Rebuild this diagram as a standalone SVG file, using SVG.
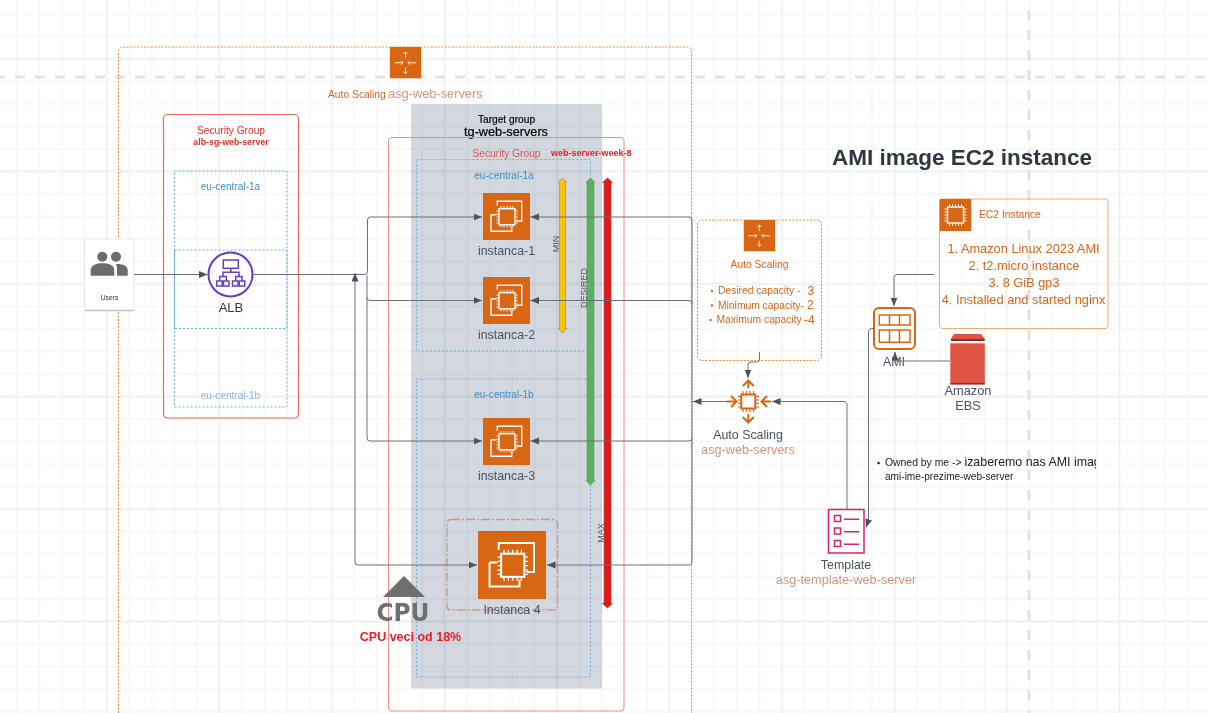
<svg xmlns="http://www.w3.org/2000/svg" xmlns:xlink="http://www.w3.org/1999/xlink" width="1208" height="713" viewBox="0 0 1208 713">
<style>
text{font-family:"Liberation Sans",Arial,sans-serif}
.lbl{font-size:12.400px;fill:#4b5260;text-anchor:middle}
.sal{font-size:12.700px;fill:#d2957c;text-anchor:middle}
.az{font-size:10.100px;text-anchor:middle;fill:#3d8ec4}
.org{fill:#d9661a}
.con{fill:none;stroke:#6a7079;stroke-width:1}
.bz{fill:none;stroke:#6fb2dc;stroke-width:1;stroke-dasharray:2 2}
.sg{fill:none;stroke:#e9695f;stroke-width:1.2}
.sm{font-size:9px;fill:#555;text-anchor:middle}
.cap{font-size:10.300px;fill:#d9661a}
.w{fill:none;stroke:#fff;stroke-width:1.400}
.p{fill:none;stroke:#fff;stroke-width:.9}
</style>
<defs>
<pattern id="grid" patternUnits="userSpaceOnUse" x="50.750" y="2.750" width="112.500" height="112.500">
<path d="M11.250 0V112.500M33.750 0V112.500M78.750 0V112.500M101.250 0V112.500M0 11.250H112.500M0 33.750H112.500M0 78.750H112.500M0 101.250H112.500" fill="none" stroke="#f7f7f7" stroke-width="1.600"/>
<path d="M56.250 0V112.500M0 56.250H112.500" fill="none" stroke="#f0f0f0" stroke-width="1.800"/>
</pattern>
<marker id="arr" markerUnits="userSpaceOnUse" markerWidth="10" markerHeight="8" refX="8.500" refY="3.500" orient="auto-start-reverse">
<path d="M0 0L8.500 3.500L0 7Z" fill="#4a5260"/>
</marker>
<symbol id="ec2" viewBox="0 0 47 47">
<rect width="47" height="47" fill="#d86613"/>
<path class="w" d="M14.300 13V8.300H38.700V28.300H33.500M8 21.700H13.500M8 21.700V38.300H28.700V33.500"/>
<rect class="w" x="16" y="15.700" width="16" height="16"/>
<path class="p" d="M18 13v2.700M21 13v2.700M24 13v2.700M27 13v2.700M30 13v2.700M18 31.700v2.700M21 31.700v2.700M24 31.700v2.700M27 31.700v2.700M30 31.700v2.700M13.400 18h2.600M13.400 21h2.600M13.400 24h2.600M13.400 27h2.600M13.400 30h2.600M32 18h2.600M32 21h2.600M32 24h2.600M32 27h2.600M32 30h2.600"/>
</symbol>
<symbol id="chip" viewBox="0 0 32 32">
<rect width="32" height="32" fill="#d86613"/>
<rect class="w" x="8" y="8" width="16" height="16"/>
<path class="p" d="M10 5v3M13 5v3M16 5v3M19 5v3M22 5v3M10 24v3M13 24v3M16 24v3M19 24v3M22 24v3M5 10h3M5 13h3M5 16h3M5 19h3M5 22h3M24 10h3M24 13h3M24 16h3M24 19h3M24 22h3"/>
</symbol>
<symbol id="asg" viewBox="0 0 32 32">
<rect width="32" height="32" fill="#d86613"/>
<path d="M16 5V11M14 7L16 5L18 7M16 27V21M14 25L16 27L18 25M5 16H13.500M11.500 14L13.500 16L11.500 18M27 16H18.500M20.500 14L18.500 16L20.500 18" fill="none" stroke="#fff" stroke-width=".9"/>
</symbol>
</defs>

<rect width="1208" height="713" fill="#fff"/>
<rect width="1208" height="713" fill="url(#grid)"/>
<path d="M-5 77H1208" fill="none" stroke="#e2e2e2" stroke-width="3" stroke-dasharray="10 10"/>
<path d="M1029 10V713" fill="none" stroke="#e2e2e2" stroke-width="3" stroke-dasharray="10 10"/>

<g id="asg-frame">
<path d="M118.500 720V51a4 4 0 0 1 4-4H687.500a4 4 0 0 1 4 4V720" fill="none" stroke="#ec8a3c" stroke-width="1" stroke-dasharray="2 1.500"/>
<use xlink:href="#asg" href="#asg" x="389.500" y="47" width="32" height="31.500"/>
<text x="328" y="98" class="cap" style="font-size:10.300px">Auto Scaling</text>
<text x="388" y="97.500" style="font-size:12.800px;fill:#d2957c">asg-web-servers</text>
</g>

<g id="target-group">
<rect x="411" y="104" width="191" height="584.500" rx="2" fill="#d3d8e0" style="mix-blend-mode:multiply"/>
<text x="506.500" y="123" style="font-size:10.200px;fill:#000;text-anchor:middle;stroke:#000;stroke-width:.2">Target group</text>
<text x="506" y="135.500" style="font-size:12.700px;fill:#000;text-anchor:middle;stroke:#000;stroke-width:.2">tg-web-servers</text>
</g>

<g id="sg-alb">
<rect class="sg" x="163.500" y="114.500" width="135" height="303.500" rx="4"/>
<text x="231" y="134" style="font-size:10.200px;fill:#e2332a;text-anchor:middle">Security Group</text>
<text x="231" y="145" style="font-size:8.800px;font-weight:bold;fill:#e2332a;text-anchor:middle">alb-sg-web-server</text>
</g>
<g id="az-alb-1a">
<rect class="bz" x="174.500" y="171" width="112.500" height="157.500"/>
<text class="az" x="230.500" y="190">eu-central-1a</text>
</g>
<g id="az-alb-1b">
<rect class="bz" x="174.500" y="250" width="112.500" height="157"/>
<text class="az" x="230.500" y="399" style="fill:#84b8e8">eu-central-1b</text>
</g>

<g id="sg-web">
<rect x="388.500" y="137.500" width="235.500" height="573.500" rx="3" fill="none" stroke="#ef8e86" stroke-width="1"/>
<text x="506.500" y="157" style="font-size:10.200px;fill:#d9564e;text-anchor:middle">Security Group</text>
<text x="551" y="156" style="font-size:9px;font-weight:bold;fill:#ee1c25">web-server-week-8</text>
</g>
<g id="az-web-1a">
<rect class="bz" x="416.500" y="159.500" width="174" height="191.500"/>
<text class="az" x="504" y="179">eu-central-1a</text>
</g>
<g id="az-web-1b">
<rect class="bz" x="416.500" y="379" width="174" height="298"/>
<text class="az" x="504" y="398">eu-central-1b</text>
</g>

<g id="bar-min">
<path d="M562.500 178L567 182.500H565.500V328.500H567L562.500 333L558 328.500H559.500V182.500H558Z" fill="#f7c30f" stroke="#8c8c6c" stroke-width=".6"/>
<text class="sm" transform="translate(559,244) rotate(-90)">MIN</text>
</g>
<g id="bar-desired">
<path d="M590.500 178L595 182.500H594V480.500H595L590.500 485L586 480.500H587V182.500H586Z" fill="#55b55a" stroke="#6f8a72" stroke-width=".6"/>
<text class="sm" transform="translate(587,288) rotate(-90)">DESIRED</text>
</g>
<g id="bar-max">
<path d="M607.500 178L612.500 182.500H611V603.500H612.500L607.500 608L602.500 603.500H604V182.500H602.500Z" fill="#e81515" stroke="#7a5a66" stroke-width=".7"/>
<text class="sm" transform="translate(604,533) rotate(-90)">MAX</text>
</g>

<g id="users">
<rect x="84.500" y="239" width="49.500" height="71.500" fill="#fff" stroke="#e8e8e8" stroke-width="1"/>
<path d="M85 310.500H134" stroke="#c4c4c4" stroke-width="1.500"/>
<circle cx="102.300" cy="256.700" r="5" fill="#6c6c6c"/>
<circle cx="116" cy="256.700" r="5" fill="#6c6c6c"/>
<path d="M90.700 275.700V270C90.700 265 97 263.300 102.500 263.300S114.300 265 114.300 270V275.700Z" fill="#6c6c6c"/>
<path d="M115.700 264C122 263.500 127.700 265.500 127.700 270V275.700H117V269C117 266.500 116.500 265 115.700 264Z" fill="#6c6c6c"/>
<text x="109.500" y="300" style="font-size:6.800px;fill:#333;text-anchor:middle">Users</text>
</g>

<g id="alb">
<circle cx="230.500" cy="274.500" r="22" fill="#fff" stroke="#693cc5" stroke-width="2"/>
<g fill="none" stroke="#693cc5" stroke-width="1.500">
<rect x="223.300" y="260" width="15" height="8.300"/>
<path d="M230.800 268.300V272.300M223 276V272.300H239V276M219.700 281V276.500H226.300V281M235.700 281V276.500H242V281"/>
<rect x="216.700" y="281" width="5.500" height="5"/><rect x="223.500" y="281" width="5.500" height="5"/><rect x="232.500" y="281" width="5.500" height="5"/><rect x="239.300" y="281" width="5.500" height="5"/>
</g>
<text x="231" y="312" style="font-size:13px;fill:#333a47;text-anchor:middle">ALB</text>
</g>

<g id="instanca-1">
<use xlink:href="#ec2" href="#ec2" x="483" y="193" width="47" height="47"/>
<text class="lbl" x="506.500" y="255">instanca-1</text>
</g>
<g id="instanca-2">
<use xlink:href="#ec2" href="#ec2" x="483" y="277" width="47" height="47"/>
<text class="lbl" x="506.500" y="339">instanca-2</text>
</g>
<g id="instanca-3">
<use xlink:href="#ec2" href="#ec2" x="483" y="418" width="47" height="47"/>
<text class="lbl" x="506.500" y="480">instanca-3</text>
</g>
<g id="instanca-4">
<rect x="447" y="519.500" width="110.500" height="90.500" rx="4" fill="none" stroke="#c99a88" stroke-width="1.400" stroke-dasharray="9 2 2 2"/>
<use xlink:href="#ec2" href="#ec2" x="478" y="531" width="68" height="68"/>
<text class="lbl" x="512" y="614">Instanca 4</text>
</g>

<g id="cpu">
<path d="M383 597L404 576L425 597Z" fill="#6f6f6f"/>
<text x="403" y="621" textLength="53" lengthAdjust="spacingAndGlyphs" style="font-family:'DejaVu Sans',sans-serif;font-size:25px;font-weight:bold;fill:#6f6f6f;text-anchor:middle">CPU</text>
<text x="410.500" y="641" style="font-size:12.500px;font-weight:bold;fill:#ee1c25;text-anchor:middle">CPU veci od 18%</text>
</g>

<g id="title">
<text x="832" y="165" style="font-size:22.500px;font-weight:bold;fill:#2f3743">AMI image EC2 instance</text>
</g>

<g id="asg-config">
<rect x="697.500" y="220" width="124" height="140.500" rx="4" fill="none" stroke="#ec8a3c" stroke-width="1" stroke-dasharray="2 1.500"/>
<use xlink:href="#asg" href="#asg" x="743.500" y="220" width="31.500" height="31.500"/>
<text class="cap" x="759.500" y="268" text-anchor="middle">Auto Scaling</text>
<circle cx="712" cy="291" r="1.200" fill="#d9661a"/>
<text class="cap" x="718" y="294">Desired capacity -</text>
<text class="cap" x="807.500" y="295" style="font-size:12px">3</text>
<circle cx="712" cy="305.500" r="1.200" fill="#d9661a"/>
<text class="cap" x="718" y="308.500">Minimum capacity-</text>
<text class="cap" x="807" y="309" style="font-size:12px">2</text>
<circle cx="710.500" cy="320" r="1.200" fill="#d9661a"/>
<text class="cap" x="716.500" y="323">Maximum capacity</text>
<text class="cap" x="804" y="323.500" style="font-size:12px">-4</text>
</g>

<g id="auto-scaling">
<g fill="none" stroke="#d86613" stroke-width="2">
<rect x="741.300" y="394.500" width="14" height="14"/>
<path d="M743 391v3M746.500 391v3M750 391v3M753.500 391v3M743 409v3M746.500 409v3M750 409v3M753.500 409v3M738 396.500h3M738 400h3M738 403.500h3M738 407h3M756 396.500h3M756 400h3M756 403.500h3M756 407h3" stroke-width="1.100"/>
<path d="M748.300 388V380.500M742.800 386L748.300 380.500L753.800 386M748.300 414V422.500M742.800 417L748.300 422.500L753.800 417M727 401.500H736.500M731 396L736.500 401.500L731 407M771 401.500H761.500M767 396L761.500 401.500L767 407"/>
</g>
<text class="lbl" x="748" y="439">Auto Scaling</text>
<text class="sal" x="748" y="454">asg-web-servers</text>
</g>

<g id="ec2-instance">
<rect x="939.500" y="199" width="168.500" height="129.500" rx="3" fill="none" stroke="#f0ab78" stroke-width="1"/>
<use xlink:href="#chip" href="#chip" x="939.500" y="199" width="32" height="32"/>
<text class="cap" x="979" y="218">EC2 Instance</text>
<g style="font-size:12.800px;fill:#d9661a;text-anchor:middle">
<text x="1023.500" y="253">1. Amazon Linux 2023 AMI</text>
<text x="1024" y="270">2. t2.micro instance</text>
<text x="1024" y="287">3. 8 GiB gp3</text>
<text x="1023.500" y="304">4. Installed and started nginx</text>
</g>
</g>

<g id="ami">
<rect x="874" y="308" width="41" height="41" rx="5" fill="#fff" stroke="#d86613" stroke-width="2"/>
<g fill="none" stroke="#d86613" stroke-width="1.500">
<rect x="879.300" y="315" width="30.700" height="10"/><rect x="879.300" y="330" width="30.700" height="12.300"/>
<path d="M889.500 315V325M899.500 315V325M889.500 330V342.300M899.500 330V342.300"/>
</g>
<text class="lbl" x="894" y="366">AMI</text>
</g>

<g id="ebs">
<path d="M954 334H981L984.500 338.500V341H951V338.500Z" fill="#e05243"/>
<path d="M951 339H984.500V341H951Z" fill="#8c2f25"/>
<rect x="950.300" y="343.300" width="34.500" height="41" fill="#e05243"/>
<rect x="950.300" y="383" width="34.500" height="1.500" fill="#8c2f25"/>
<text class="lbl" x="968" y="395" style="font-size:12.800px">Amazon</text>
<text class="lbl" x="968" y="410" style="font-size:12.800px">EBS</text>
</g>

<g id="template">
<rect x="828.500" y="509.500" width="35.500" height="43.500" fill="#fff" stroke="#d6246a" stroke-width="1.500"/>
<g fill="none" stroke="#d6246a" stroke-width="1.500">
<rect x="834.500" y="515.500" width="6" height="6"/><rect x="834.500" y="528" width="6" height="6"/><rect x="834.500" y="540.500" width="6" height="6"/>
<path d="M844 519.300H859.300M844 531.700H859.300M844 544.300H859.300"/>
</g>
<text class="lbl" x="846" y="569">Template</text>
<text class="sal" x="846" y="584">asg-template-web-server</text>
</g>

<g id="note">
<circle cx="878.500" cy="463" r="1.200" fill="#111"/>
<svg x="885" y="450" width="211" height="35" viewBox="885 450 211 35">
<text x="885" y="466" style="font-size:10.400px;fill:#222">Owned by me -&gt; <tspan style="font-size:12.400px">izaberemo nas AMI image</tspan></text>
</svg>
<text x="885" y="479.500" style="font-size:10.100px;fill:#222">ami-ime-prezime-web-server</text>
</g>

<g id="connectors">
<path class="con" d="M134 274.500H207.500" marker-end="url(#arr)"/>
<path class="con" d="M253 274.500H364.500a3 3 0 0 0 3-3V220a3 3 0 0 1 3-3H482" marker-end="url(#arr)"/>
<path class="con" d="M367 275V297.500a3 3 0 0 0 3 3H482" marker-end="url(#arr)"/>
<path class="con" d="M367 297V438a3 3 0 0 0 3 3H482" marker-end="url(#arr)"/>
<path class="con" d="M477 565H358a3 3 0 0 1-3-3V273" marker-start="url(#arr)" marker-end="url(#arr)"/>
<path class="con" d="M692 401.500V220a3 3 0 0 0-3-3H530.500" marker-end="url(#arr)"/>
<path class="con" d="M692 304V303.500a3 3 0 0 0-3-3H530.500" marker-end="url(#arr)"/>
<path class="con" d="M692 401V438a3 3 0 0 1-3 3H530.500" marker-end="url(#arr)"/>
<path class="con" d="M692 438V562a3 3 0 0 1-3 3H547" marker-end="url(#arr)"/>
<path class="con" d="M727 401.500H693" marker-end="url(#arr)"/>
<path class="con" d="M847 509V405a3 3 0 0 0-3-3.500H772" marker-end="url(#arr)"/>
<path class="con" d="M759.500 352V359a3 3 0 0 1-3 3H751a3 3 0 0 0-3 3V378" marker-end="url(#arr)"/>
<path class="con" d="M934 274.500H897a3 3 0 0 0-3 3V306" marker-end="url(#arr)"/>
<path class="con" d="M950 361H895V352" marker-end="url(#arr)"/>
<path class="con" d="M874 328.500H871.500a3 3 0 0 0-3 3V520L866 527.500" marker-end="url(#arr)"/>
</g>
</svg>
